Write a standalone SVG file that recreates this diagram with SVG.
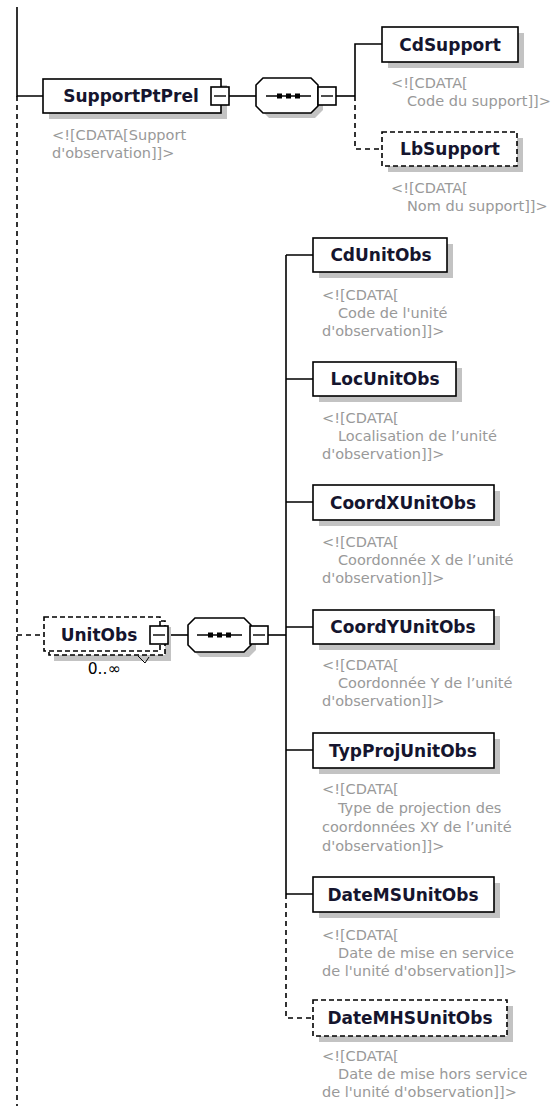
<svg xmlns="http://www.w3.org/2000/svg" width="557" height="1106" viewBox="0 0 557 1106">
<style>
.bg{fill:#fff}
.box{fill:#fff;stroke:#000;stroke-width:1.6}
.dash{stroke-dasharray:5 3}
.shadow{fill:#c3c3c3}
.name{font-family:"DejaVu Sans",sans-serif;font-weight:bold;font-size:17px;fill:#15152e;text-anchor:middle}
.desc{font-family:"DejaVu Sans",sans-serif;font-size:14.5px;fill:#999}
.mult{font-family:"DejaVu Sans",sans-serif;font-size:15.5px;fill:#000;text-anchor:middle}
.ln{fill:none;stroke:#000;stroke-width:1.6}
.dl{fill:none;stroke:#000;stroke-width:1.6;stroke-dasharray:5 4}
.minus{fill:none;stroke:#000;stroke-width:1.4}
.dot{fill:#000}
</style>
<rect class="bg" x="0" y="0" width="557" height="1106"/>
<g id="connectors">
  <path class="ln" d="M17,7 V96 H43"/>
  <path class="dl" d="M17,96 V1106"/>
  <path class="ln" d="M229,96 H256"/>
  <path class="ln" d="M336,96 H355"/>
  <path class="ln" d="M382,44 H355 V96"/>
  <path class="dl" d="M355,96 V149 H382"/>
  <path class="dl" d="M17,635 H44"/>
  <path class="ln" d="M168,635 H188"/>
  <path class="ln" d="M268,635 H286"/>
  <path class="ln" d="M286,255 V894"/>
  <path class="ln" d="M286,255 H313 M286,379 H313 M286,502 H313 M286,627 H313 M286,750 H313 M286,894 H313"/>
  <path class="dl" d="M286,894 V1018 H313"/>
</g>
<g id="SupportPtPrel">
  <rect class="shadow" x="49" y="85" width="178" height="34"/>
  <rect class="box" x="43" y="79" width="178" height="34"/>
  <text class="name" x="131" y="102">SupportPtPrel</text>
  <rect class="box" x="211" y="87" width="18" height="18"/>
  <path class="minus" d="M214,96 H226"/>
  <text class="desc"><tspan x="52" y="140">&lt;![CDATA[Support</tspan><tspan x="52" y="158">d'observation]]&gt;</tspan></text>
</g>
<g id="seq1">
  <path class="shadow" d="M269,83 H315 L323,91 V110 L315,118 H269 L261,110 V91 Z"/>
  <path class="box" d="M263,78 H311 L318,85 V106 L311,113 H263 L256,106 V85 Z"/>
  <path class="ln" d="M266,96 H311"/>
  <rect class="dot" x="277" y="93.5" width="5" height="5"/>
  <rect class="dot" x="286" y="93.5" width="5" height="5"/>
  <rect class="dot" x="295" y="93.5" width="5" height="5"/>
  <rect class="box" x="318" y="87" width="18" height="18"/>
  <path class="minus" d="M321,96 H333"/>
</g>
<g id="CdSupport">
  <rect class="shadow" x="388" y="33" width="136" height="35"/>
  <rect class="box" x="382" y="27" width="136" height="35"/>
  <text class="name" x="450" y="51">CdSupport</text>
  <text class="desc"><tspan x="391" y="88">&lt;![CDATA[</tspan><tspan x="407" y="106">Code du support]]&gt;</tspan></text>
</g>
<g id="LbSupport">
  <rect class="shadow" x="388" y="138" width="135" height="34"/>
  <rect class="box dash" x="382" y="132" width="135" height="34"/>
  <text class="name" x="450" y="155">LbSupport</text>
  <text class="desc"><tspan x="391" y="193">&lt;![CDATA[</tspan><tspan x="407" y="211">Nom du support]]&gt;</tspan></text>
</g>
<g id="UnitObs">
  <rect class="shadow" x="54" y="627" width="117" height="34"/>
  <rect class="box dash" x="49" y="621" width="116" height="34"/>
  <rect class="box dash" x="44" y="617" width="116" height="34"/>
  <text class="name" x="99" y="641">UnitObs</text>
  <rect class="box" x="150" y="626" width="18" height="18"/>
  <path class="minus" d="M153,635 H165"/>
  <path fill="none" stroke="#000" stroke-width="1" d="M138,656 L145,663 L149,657"/>
  <text class="mult" x="104" y="674">0..∞</text>
</g>
<g id="seq2">
  <path class="shadow" d="M200,623 H249 L256,630 V650 L249,657 H200 L193,650 V630 Z"/>
  <path class="box" d="M195,618 H244 L251,625 V645 L244,652 H195 L188,645 V625 Z"/>
  <path class="ln" d="M197,635 H242"/>
  <rect class="dot" x="208" y="632.5" width="5" height="5"/>
  <rect class="dot" x="217" y="632.5" width="5" height="5"/>
  <rect class="dot" x="226" y="632.5" width="5" height="5"/>
  <rect class="box" x="250" y="626" width="18" height="18"/>
  <path class="minus" d="M253,635 H265"/>
</g>
<g id="CdUnitObs">
  <rect class="shadow" x="319" y="244" width="134" height="34"/>
  <rect class="box" x="313" y="238" width="134" height="34"/>
  <text class="name" x="381" y="261">CdUnitObs</text>
  <text class="desc"><tspan x="322" y="300">&lt;![CDATA[</tspan><tspan x="338" y="318">Code de l'unité</tspan><tspan x="322" y="336">d'observation]]&gt;</tspan></text>
</g>
<g id="LocUnitObs">
  <rect class="shadow" x="319" y="368" width="143" height="34"/>
  <rect class="box" x="313" y="362" width="143" height="34"/>
  <text class="name" x="385" y="385">LocUnitObs</text>
  <text class="desc"><tspan x="322" y="423">&lt;![CDATA[</tspan><tspan x="338" y="441">Localisation de l’unité</tspan><tspan x="322" y="459">d'observation]]&gt;</tspan></text>
</g>
<g id="CoordXUnitObs">
  <rect class="shadow" x="319" y="491" width="181" height="35"/>
  <rect class="box" x="313" y="485" width="181" height="35"/>
  <text class="name" x="403" y="509">CoordXUnitObs</text>
  <text class="desc"><tspan x="322" y="547">&lt;![CDATA[</tspan><tspan x="338" y="565">Coordonnée X de l’unité</tspan><tspan x="322" y="583">d'observation]]&gt;</tspan></text>
</g>
<g id="CoordYUnitObs">
  <rect class="shadow" x="319" y="616" width="181" height="34"/>
  <rect class="box" x="313" y="610" width="181" height="34"/>
  <text class="name" x="403" y="633">CoordYUnitObs</text>
  <text class="desc"><tspan x="322" y="670">&lt;![CDATA[</tspan><tspan x="338" y="688">Coordonnée Y de l’unité</tspan><tspan x="322" y="706">d'observation]]&gt;</tspan></text>
</g>
<g id="TypProjUnitObs">
  <rect class="shadow" x="319" y="739" width="181" height="35"/>
  <rect class="box" x="313" y="733" width="181" height="35"/>
  <text class="name" x="403" y="757">TypProjUnitObs</text>
  <text class="desc"><tspan x="322" y="794">&lt;![CDATA[</tspan><tspan x="338" y="813">Type de projection des</tspan><tspan x="322" y="832">coordonnées XY de l’unité</tspan><tspan x="322" y="851">d'observation]]&gt;</tspan></text>
</g>
<g id="DateMSUnitObs">
  <rect class="shadow" x="319" y="883" width="181" height="35"/>
  <rect class="box" x="313" y="877" width="181" height="35"/>
  <text class="name" x="403" y="901">DateMSUnitObs</text>
  <text class="desc"><tspan x="322" y="940">&lt;![CDATA[</tspan><tspan x="338" y="958">Date de mise en service</tspan><tspan x="322" y="976">de l'unité d'observation]]&gt;</tspan></text>
</g>
<g id="DateMHSUnitObs">
  <rect class="shadow" x="319" y="1006" width="194" height="36"/>
  <rect class="box dash" x="313" y="1000" width="194" height="36"/>
  <text class="name" x="410" y="1024">DateMHSUnitObs</text>
  <text class="desc"><tspan x="322" y="1061">&lt;![CDATA[</tspan><tspan x="338" y="1079">Date de mise hors service</tspan><tspan x="322" y="1097">de l'unité d'observation]]&gt;</tspan></text>
</g>
</svg>
